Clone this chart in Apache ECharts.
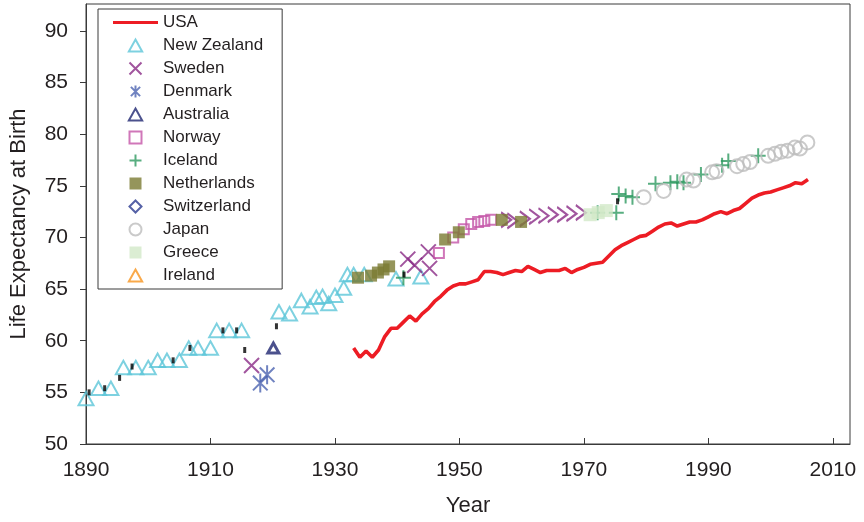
<!DOCTYPE html>
<html><head><meta charset="utf-8">
<script src="https://cdn.jsdelivr.net/npm/echarts@6/dist/echarts.min.js"></script>
<style>html,body{margin:0;padding:0;background:#fff}#c{width:864px;height:522px}</style>
</head><body><div id="c"></div>
<script>
const xTicks = [1890, 1910, 1930, 1950, 1970, 1990, 2010];
const yTicks = [50, 55, 60, 65, 70, 75, 80, 85, 90];

const usaYears = [1933,1934,1935,1936,1937,1938,1939,1940,1941,1942,1943,1944,1945,1946,1947,1948,1949,1950,1951,1952,1953,1954,1955,1956,1957,1958,1959,1960,1961,1962,1963,1964,1965,1966,1967,1968,1969,1970,1971,1972,1973,1974,1975,1976,1977,1978,1979,1980,1981,1982,1983,1984,1985,1986,1987,1988,1989,1990,1991,1992,1993,1994,1995,1996,1997,1998,1999,2000,2001,2002,2003,2004,2005,2006];
const usaValues = [59.3,58.4,59.0,58.4,59.1,60.4,61.2,61.2,61.8,62.4,61.9,62.6,63.1,63.8,64.3,64.9,65.3,65.5,65.5,65.7,65.9,66.7,66.7,66.6,66.4,66.6,66.8,66.7,67.2,66.9,66.6,66.8,66.8,66.8,67.0,66.6,66.9,67.1,67.4,67.5,67.6,68.2,68.8,69.2,69.5,69.8,70.1,70.2,70.6,71.0,71.3,71.4,71.1,71.3,71.5,71.5,71.7,72.0,72.3,72.5,72.3,72.6,72.8,73.3,73.8,74.1,74.3,74.4,74.6,74.8,75.0,75.3,75.2,75.6];

const nzYears = [1890,1892,1894,1896,1898,1900,1901.5,1903,1905,1906.5,1908,1910,1911,1913,1915,1921,1922.7,1924.6,1926,1927,1928,1929,1930,1931.4,1932,1933,1934.7,1939.8,1943.8];
const nzValues = [54.4,55.4,55.4,57.4,57.4,57.4,58.1,58.1,58.1,59.3,59.3,59.3,61.0,61.0,61.0,62.8,62.6,63.9,63.3,64.2,64.3,63.6,64.4,65.1,66.4,66.4,66.4,66.0,66.2];

const swedenYears = [1916.6,1941.7,1942.8,1945,1945.2,1957.5,1958.5,1960.5,1962,1963.5,1965,1966.5,1968,1969.5];
const swedenValues = [57.6,67.9,67.3,68.6,67.0,71.7,71.6,71.8,72.0,72.1,72.2,72.2,72.3,72.4];

const denmarkYears = [1918,1919.1];
const denmarkValues = [55.9,56.7];

const australiaYears = [1920.1];
const australiaValues = [59.3];

const norwayYears = [1946.7,1949,1950.7,1951.9,1953,1954,1955.1];
const norwayValues = [68.5,70.0,70.8,71.3,71.5,71.6,71.7];

const icelandYears = [1941,1972.2,1975.2,1975.6,1976.7,1977.8,1981.5,1983.9,1985,1986,1988.8,1992.2,1993.2,1998];
const icelandValues = [66.1,72.4,72.4,74.2,74.0,73.9,75.2,75.3,75.4,75.3,76.1,77.0,77.4,77.9];

const netherlandsYears = [1933.7,1935.8,1936.9,1937.8,1938.7,1947.7,1949.9,1956.8,1959.9];
const netherlandsValues = [66.1,66.3,66.6,66.9,67.2,69.8,70.5,71.7,71.5];

const switzerlandYears = [];
const switzerlandValues = [];

const japanYears = [1979.6,1982.8,1986.5,1987.6,1990.6,1991.3,1994.6,1995.6,1996.7,1999.6,2000.7,2001.7,2002.7,2003.9,2004.7,2005.9];
const japanValues = [73.9,74.5,75.6,75.5,76.3,76.4,76.9,77.1,77.3,77.9,78.1,78.3,78.4,78.7,78.6,79.2];

const greeceYears = [1971,1972.3,1973.6];
const greeceValues = [72.2,72.4,72.6];

const irelandYears = [];
const irelandValues = [];

const markYears = [1890.5,1893,1895.4,1897.4,1904,1906.7,1912,1914.2,1915.5,1920.6,1941.1,1975.4];
const markValues = [55.0,55.4,56.4,57.5,58.1,59.3,61.0,61.0,59.1,61.4,66.4,73.5];

const pairs = (xs, ys) => xs.map((x, i) => [x, ys[i]]);

const SYM_X = 'path://M0,0L10,10M10,0L0,10';
const SYM_CHEV = 'path://M0,0L10,5L0,10M2,8.5L0,10';
const SYM_AST = 'path://M0,0L10,10M10,0L0,10M5,-1.5L5,11.5';
const SYM_PLUS = 'path://M5,0L5,10M0,5L10,5';
const SYM_TRI = 'path://M5,0L10,9L0,9Z';
const SYM_RECT = 'path://M0,0L10,0L10,10L0,10Z';
const SYM_DIAM = 'path://M5,0L10,5L5,10L0,5Z';
const SYM_LINE = 'path://M0,0L45,0L45,3.2L0,3.2Z';
const clear = 'rgba(0,0,0,0)';

function scatter(name, data, symbol, size, style, z) {
  return {
    name, type: 'scatter', data, symbol, symbolSize: size,
    symbolKeepAspect: true, itemStyle: style, z: z || 2, silent: true
  };
}

const swedenData = pairs(swedenYears, swedenValues).map(p =>
  p[0] > 1956 ? {value: p, symbol: SYM_CHEV, symbolSize: [10, 15]} : p);

const chart = echarts.init(document.getElementById('c'), null, {renderer: 'canvas'});
const font = 'Liberation Sans, Arial, Helvetica, sans-serif';
chart.setOption({
  animation: false,
  backgroundColor: '#fff',
  textStyle: {fontFamily: font},
  grid: {left: 84, right: 14, top: 4, bottom: 76, show: true, borderColor: '#3a3a3a', borderWidth: 1},
  xAxis: {
    type: 'value', min: 1890, max: 2012.75, interval: 20,
    name: 'Year', nameLocation: 'middle', nameGap: 51,
    nameTextStyle: {fontSize: 22, color: '#231f20', fontFamily: font},
    axisLine: {lineStyle: {color: '#3a3a3a', width: 1}},
    axisTick: {inside: true, length: 6, lineStyle: {color: '#3a3a3a'}},
    axisLabel: {fontSize: 21, color: '#231f20', margin: 16, showMaxLabel: false, fontFamily: font,
      formatter: v => xTicks.includes(v) ? String(v) : ''},
    splitLine: {show: false}
  },
  yAxis: {
    type: 'value', min: 50, max: 92.6, interval: 5,
    name: 'Life Expectancy at Birth', nameLocation: 'middle', nameGap: 56,
    nameTextStyle: {fontSize: 22, color: '#231f20', fontFamily: font},
    axisLine: {show: true, lineStyle: {color: '#3a3a3a', width: 1}},
    axisTick: {show: true, inside: false, length: 6, lineStyle: {color: '#3a3a3a'}},
    axisLabel: {fontSize: 21, color: '#231f20', margin: 18, showMaxLabel: false, fontFamily: font,
      formatter: v => yTicks.includes(v) ? String(v) : ''},
    splitLine: {show: false}
  },
  legend: {
    orient: 'vertical', left: 98, top: 9,
    padding: [5, 19, 5, 15],
    itemWidth: 45, itemHeight: 12, itemGap: 6,
    borderColor: '#3a3a3a', borderWidth: 1, backgroundColor: '#fff',
    textStyle: {fontSize: 17, color: '#231f20', lineHeight: 17, fontFamily: font},
    data: [{name: 'USA', icon: SYM_LINE, itemStyle: {color: '#ed1c24', borderWidth: 0}},
      'New Zealand','Sweden','Denmark','Australia','Norway','Iceland','Netherlands','Switzerland','Japan','Greece','Ireland'],
    selectedMode: false
  },
  series: [
    scatter('New Zealand', pairs(nzYears, nzValues), SYM_TRI, 15, {color: clear, borderColor: '#5dc6d8', borderWidth: 2}),
    scatter('Sweden', swedenData, SYM_X, 15, {color: clear, borderColor: '#8a2a86', borderWidth: 2}),
    scatter('Denmark', pairs(denmarkYears, denmarkValues), SYM_AST, 19, {color: clear, borderColor: '#4b63b0', borderWidth: 2}),
    scatter('Australia', pairs(australiaYears, australiaValues), SYM_TRI, 11, {color: clear, borderColor: '#1e2570', borderWidth: 3}),
    scatter('Norway', pairs(norwayYears, norwayValues), SYM_RECT, 10, {color: clear, borderColor: '#c455a8', borderWidth: 2}),
    scatter('Iceland', pairs(icelandYears, icelandValues), SYM_PLUS, 15, {color: clear, borderColor: '#2e9a60', borderWidth: 2}),
    scatter('Netherlands', pairs(netherlandsYears, netherlandsValues), SYM_RECT, 12, {color: '#7b7b32'}),
    scatter('Switzerland', pairs(switzerlandYears, switzerlandValues), SYM_DIAM, 12, {color: clear, borderColor: '#2b3990', borderWidth: 2}),
    scatter('Japan', pairs(japanYears, japanValues), 'circle', 14, {color: clear, borderColor: '#bdbdbd', borderWidth: 2}),
    scatter('Greece', pairs(greeceYears, greeceValues), SYM_RECT, 13, {color: '#d2e8c8'}),
    scatter('Ireland', pairs(irelandYears, irelandValues), SYM_TRI, 12, {color: clear, borderColor: '#f7941d', borderWidth: 2}),
    scatter('marks', pairs(markYears, markValues), 'rect', [3, 6], {color: '#000'}, 3),
    {
      name: 'USA', type: 'line', data: pairs(usaYears, usaValues), symbol: 'none',
      lineStyle: {color: '#ed1c24', width: 3.6}, itemStyle: {color: '#ed1c24'}, z: 4, silent: true
    }
  ]
});
</script>
</body></html>
